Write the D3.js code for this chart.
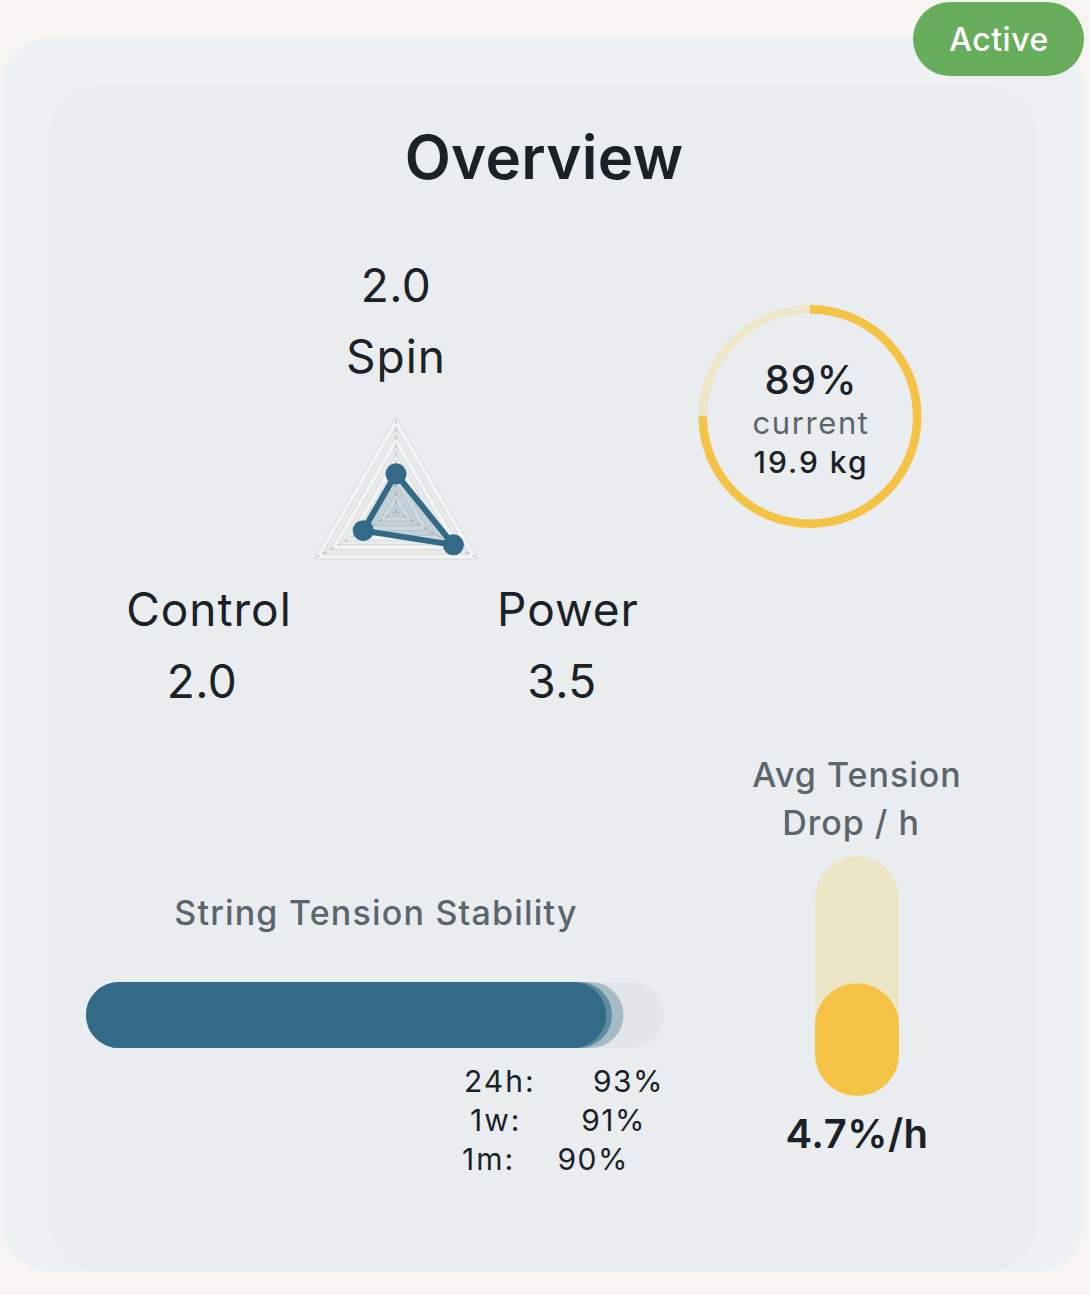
<!DOCTYPE html>
<html>
<head>
<meta charset="utf-8">
<script src="https://cdn.jsdelivr.net/npm/d3@7/dist/d3.min.js"></script>
<style>
html,body{margin:0;padding:0;background:#f6f5f1;}
svg{display:block;font-family:Inter,"Noto Sans",sans-serif;}
</style>
</head>
<body>
<svg id="chart" width="1090" height="1295"></svg>
<script>
// ---- data ----
const radarAxes = ["Spin", "Power", "Control"];
const radarValues = [2.0, 3.5, 2.0];
const radarMax = 5;
const radarLevels = 10;

const gaugePercentLabel = "89%";
const gaugeFill = 0.75;
const gaugeSubLabel = "current";
const gaugeValueLabel = "19.9 kg";

const stabilityPeriods = ["24h", "1w", "1m"];
const stabilityValues = [93, 91, 90];

const dropValue = 4.7;
const dropMax = 10;
const dropTitle = ["Avg Tension", "Drop / h"];
const statusLabel = "Active";

// ---- drawing ----
const svg = d3.select("#chart");
const dark = "#1b2227", gray = "#5b656c", blue = "#336a87";

// cards
svg.append("rect").attr("x", 2).attr("y", 37).attr("width", 1082).attr("height", 1235)
  .attr("rx", 50).attr("fill", "#eef1f3");
svg.append("rect").attr("x", 50).attr("y", 85).attr("width", 987).attr("height", 1187)
  .attr("rx", 48).attr("fill", "#e9edf0");

// status badge
svg.append("rect").attr("x", 913).attr("y", 2).attr("width", 171).attr("height", 74)
  .attr("rx", 37).attr("fill", "#67ad5c");
svg.append("text").attr("x", 999).attr("y", 51).attr("text-anchor", "middle")
  .attr("font-size", 32).attr("font-weight", 500).attr("letter-spacing", 0.5).attr("fill", "#fff").text(statusLabel);

// title
svg.append("text").attr("x", 544).attr("y", 179).attr("text-anchor", "middle")
  .attr("font-size", 60).attr("font-weight", 600).attr("letter-spacing", 0.3).attr("fill", dark).text("Overview");

// ---- radar ----
const rc = {x: 396, y: 511.7}, R = 94.7;
const rScale = d3.scaleLinear().domain([0, radarMax]).range([0, R]);
const angle = i => i * 2 * Math.PI / radarAxes.length; // 0 = up, clockwise
const pt = (i, r) => [rc.x + r * Math.sin(angle(i)), rc.y - r * Math.cos(angle(i))];
const rg = svg.append("g");
const levels = d3.range(radarLevels, 0, -1);
rg.selectAll("polygon.lvl").data(levels).join("polygon").attr("class", "lvl")
  .attr("points", l => radarAxes.map((a, i) => pt(i, rScale(radarMax * l / radarLevels)).join(",")).join(" "))
  .attr("fill", (l, k) => k % 2 ? "#e8eaeb" : "#f3f4f4")
  .attr("stroke", "#d8dadb").attr("stroke-width", 1);
rg.selectAll("line.spoke").data(radarAxes).join("line").attr("class", "spoke")
  .attr("x1", rc.x).attr("y1", rc.y)
  .attr("x2", (d, i) => pt(i, R)[0]).attr("y2", (d, i) => pt(i, R)[1])
  .attr("stroke", "#c3c6c8").attr("stroke-width", 1.5).attr("stroke-dasharray", "4,4");
const poly = radarValues.map((v, i) => pt(i, rScale(v)));
rg.append("polygon").attr("points", poly.map(p => p.join(",")).join(" "))
  .attr("fill", blue).attr("fill-opacity", 0.2)
  .attr("stroke", blue).attr("stroke-width", 6).attr("stroke-linejoin", "round");
rg.selectAll("circle").data(poly).join("circle")
  .attr("cx", d => d[0]).attr("cy", d => d[1]).attr("r", 10.5).attr("fill", blue);

// radar labels
const labelR = 194;
const labelPos = radarAxes.map((a, i) => {
  const p = pt(i, labelR);
  if (i === 0) return {name: [rc.x, rc.y - 139], val: [rc.x, rc.y - 210]};
  const dx = i === 1 ? 4 : -19;
  const vdx = i === 1 ? -2 : -26;
  return {name: [p[0] + dx, p[1] + 17], val: [p[0] + vdx, p[1] + 89]};
});
radarAxes.forEach((a, i) => {
  const lp = labelPos[i];
  svg.append("text").attr("x", lp.name[0]).attr("y", lp.name[1]).attr("text-anchor", "middle")
    .attr("font-size", 46).attr("letter-spacing", 1).attr("fill", dark).text(a);
  svg.append("text").attr("x", lp.val[0]).attr("y", lp.val[1]).attr("text-anchor", "middle")
    .attr("font-size", 46).attr("letter-spacing", 0.5).attr("fill", dark).text(radarValues[i].toFixed(1));
});

// ---- gauge ----
const gc = {x: 810, y: 416.5};
const gScale = d3.scaleLinear().domain([0, 1]).range([0, 2 * Math.PI]);
const arc = d3.arc().innerRadius(103).outerRadius(111.5);
const gg = svg.append("g").attr("transform", `translate(${gc.x},${gc.y})`);
gg.append("path").attr("d", arc({startAngle: 0, endAngle: gScale(1)})).attr("fill", "#ede7c7");
gg.append("path").attr("d", arc({startAngle: 0, endAngle: gScale(gaugeFill)})).attr("fill", "#f4c244");
gg.append("text").attr("x", 1).attr("y", -23).attr("text-anchor", "middle").attr("font-size", 40)
  .attr("font-weight", 500).attr("letter-spacing", 1).attr("fill", dark).text(gaugePercentLabel);
gg.append("text").attr("x", 1).attr("y", 17).attr("text-anchor", "middle").attr("font-size", 31)
  .attr("letter-spacing", 1.6).attr("fill", gray).text(gaugeSubLabel);
gg.append("text").attr("x", 1).attr("y", 56).attr("text-anchor", "middle").attr("font-size", 30)
  .attr("font-weight", 500).attr("letter-spacing", 2).attr("fill", dark).text(gaugeValueLabel);

// ---- stability bars ----
svg.append("text").attr("x", 376).attr("y", 925).attr("text-anchor", "middle")
  .attr("font-size", 34).attr("font-weight", 500).attr("letter-spacing", 1.2).attr("fill", gray).text("String Tension Stability");
const bx = d3.scaleLinear().domain([0, 100]).range([0, 578]);
const bar = {x: 86, y: 982, h: 66};
svg.append("rect").attr("x", bar.x).attr("y", bar.y).attr("width", bx(100)).attr("height", bar.h)
  .attr("rx", bar.h / 2).attr("fill", "#e2e6e9");
const opac = [0.35, 0.6, 1];
svg.selectAll("rect.sb").data(stabilityValues).join("rect").attr("class", "sb")
  .attr("x", bar.x).attr("y", bar.y).attr("width", d => bx(d)).attr("height", bar.h)
  .attr("rx", bar.h / 2).attr("fill", blue).attr("fill-opacity", (d, i) => opac[i]);
const legLabelX = [464, 470, 462], legValX = [664, 646, 629];
stabilityPeriods.forEach((p, i) => {
  const y = 1092 + i * 39;
  svg.append("text").attr("x", legLabelX[i]).attr("y", y).attr("font-size", 30)
    .attr("letter-spacing", 2).attr("fill", dark).text(p + ":");
  svg.append("text").attr("x", legValX[i]).attr("y", y).attr("text-anchor", "end")
    .attr("font-size", 30).attr("letter-spacing", 1.5).attr("fill", dark).text(stabilityValues[i] + "%");
});

// ---- vertical drop bar ----
dropTitle.forEach((t, i) => {
  svg.append("text").attr("x", 857 - i * 6).attr("y", 787 + i * 48).attr("text-anchor", "middle")
    .attr("font-size", 34).attr("font-weight", 500).attr("letter-spacing", 1).attr("fill", gray).text(t);
});
const vb = {x: 815, y: 856, w: 84, h: 240};
const vy = d3.scaleLinear().domain([0, dropMax]).range([0, vb.h]);
svg.append("rect").attr("x", vb.x).attr("y", vb.y).attr("width", vb.w).attr("height", vb.h)
  .attr("rx", vb.w / 2).attr("fill", "#ece6c6");
svg.append("rect").attr("x", vb.x).attr("y", vb.y + vb.h - vy(dropValue)).attr("width", vb.w)
  .attr("height", vy(dropValue)).attr("rx", vb.w / 2).attr("fill", "#f4c244");
svg.append("text").attr("x", 857).attr("y", 1148).attr("text-anchor", "middle")
  .attr("font-size", 40).attr("font-weight", 600).attr("letter-spacing", 0.5).attr("fill", dark).text(dropValue + "%/h");
</script>
</body>
</html>
